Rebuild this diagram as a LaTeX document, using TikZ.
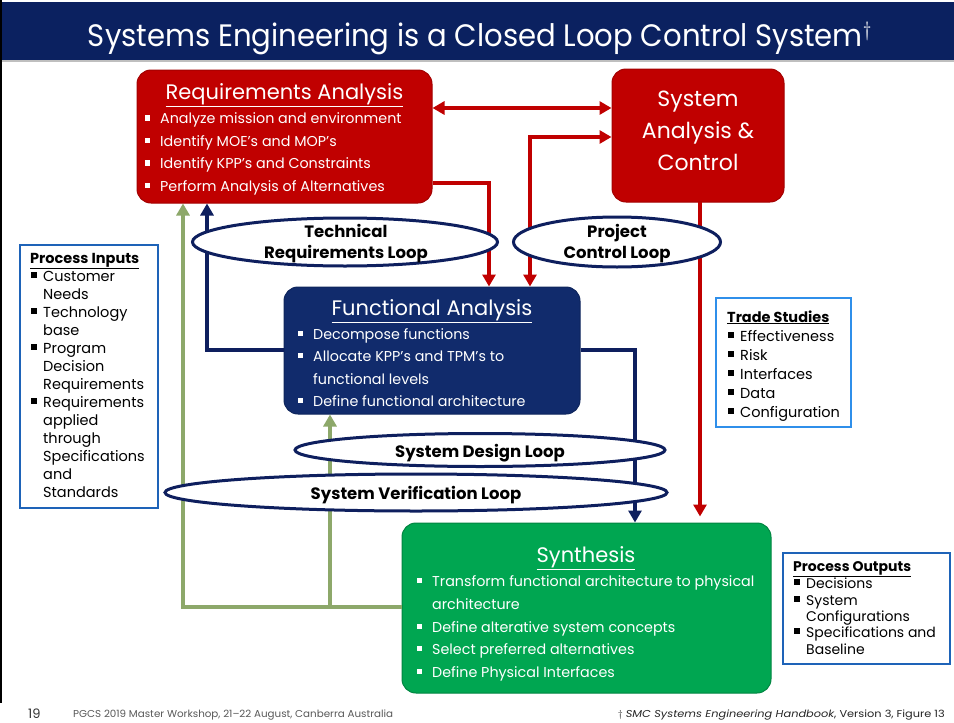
\documentclass[tikz,border=0pt]{standalone}
\usepackage{fontspec}
\setmainfont{Poppins}
\usetikzlibrary{arrows.meta,shapes.geometric}

\definecolor{titleNavy}{HTML}{0B2160}
\definecolor{raRed}{HTML}{C00000}
\definecolor{faNavy}{HTML}{112B6C}
\definecolor{synGreen}{HTML}{00A651}
\definecolor{oliveLine}{HTML}{8DA86A}
\definecolor{loopNavy}{HTML}{0E1F5E}
\definecolor{boxBlue}{HTML}{1E63B8}
\definecolor{tsBlue}{HTML}{2F8FEA}
\definecolor{footGray}{HTML}{595959}

% white square bullet inside the coloured boxes, black one in the side boxes
\newcommand{\wsq}{\llap{\rule[3pt]{5.5pt}{5.5pt}\hspace{10pt}}}
\newcommand{\ksq}{\llap{\rule[3pt]{6pt}{6pt}\hspace{6.5pt}}}

\begin{document}
\begin{tikzpicture}[x=1pt,y=-1pt,
  procbox/.style={rounded corners=14pt, inner sep=0pt, line width=1pt},
  sidebox/.style={draw=boxBlue, fill=white, line width=2.5pt, inner sep=0pt},
  loop/.style={ellipse, draw=loopNavy, fill=white, line width=3pt, inner sep=0pt},
  hd/.style={text=white, font=\fontsize{21}{24}\selectfont, inner sep=0pt},
  bt/.style={text=white, font=\fontsize{14.3}{16}\selectfont, inner sep=0pt, anchor=base west},
  st/.style={text=black, font=\fontsize{14.5}{16}\selectfont, inner sep=0pt, anchor=base west},
  lt/.style={text=black, font=\bfseries\fontsize{16.5}{20}\selectfont, inner sep=0pt, anchor=base},
  conn/.style={line width=4pt},
  tip/.style={-{Triangle[width=13pt,length=12pt]}},
  dtip/.style={{Triangle[width=13pt,length=12pt]}-{Triangle[width=13pt,length=12pt]}},
]
\useasboundingbox (0,0) rectangle (954,723);
\fill[white] (0,0) rectangle (954,723);

% title band and slide border
\fill[titleNavy] (0,2) rectangle (954,60);
\fill[black!25] (0,60) rectangle (954,61.5);
\draw[black, line width=2.5pt] (1.2,0) -- (1.2,703);
\node[text=white, inner sep=0pt, anchor=base] (title) at (480,46)
  {\resizebox{784pt}{\height}{\fontsize{31}{34}\selectfont Systems Engineering is a Closed Loop Control System$^{\dagger}$}};

% process boxes
\node[procbox, fill=raRed, draw=raRed!85!black, minimum width=295pt, minimum height=133pt] (ra) at (284.5,136.5) {};
\node[procbox, fill=raRed, draw=raRed!85!black, minimum width=172pt, minimum height=133pt] (sac) at (698,135.5) {};
\node[procbox, fill=faNavy, draw=faNavy!85!black, minimum width=296pt, minimum height=127pt] (fa) at (432,350.5) {};
\node[procbox, fill=synGreen, draw=synGreen!80!black, minimum width=369pt, minimum height=170pt] (syn) at (586.5,608) {};

% side boxes
\node[sidebox, minimum width=138pt, minimum height=263pt] (pin) at (89,376.5) {};
\node[sidebox, draw=tsBlue, minimum width=135pt, minimum height=129pt] (ts) at (783.5,362.5) {};
\node[sidebox, minimum width=167pt, minimum height=111pt] (pout) at (866.5,608.5) {};

% connectors: analysis/control loop (red)
\coordinate (r0) at (520,108);
\coordinate (r1) at (489,183);
\coordinate (r2) at (530,137);
\draw[conn, raRed, dtip] (ra.east |- r0) -- (sac.west |- r0);
\draw[conn, raRed, tip] (ra.east |- r1) -- (r1) -- (r1 |- fa.north);
\draw[conn, raRed, dtip] (sac.west |- r2) -- (r2) -- (r2 |- fa.north);
\coordinate (r3) at (700,202);
\draw[conn, raRed, tip, shorten >=6pt] (r3) -- (r3 |- syn.north);

% connectors: design loop (navy)
\coordinate (n1) at (207,350);
\coordinate (n2) at (635,350);
\draw[conn, loopNavy, tip] (fa.west |- n1) -- (n1) -- (n1 |- ra.south);
\draw[conn, loopNavy, tip] (fa.east |- n2) -- (n2) -- (n2 |- syn.north);

% connectors: verification loop (olive)
\coordinate (g1) at (183,607);
\coordinate (g2) at (330,607);
\draw[conn, oliveLine, tip] (syn.west |- g1) -- (g1) -- (g1 |- ra.south);
\draw[conn, oliveLine, tip] (g2) -- (g2 |- fa.south);

% loop ellipses
\node[loop, minimum width=305pt, minimum height=48pt] (trl) at (345,242) {};
\node[loop, minimum width=207pt, minimum height=50pt] (pcl) at (617,242) {};
\node[loop, minimum width=370pt, minimum height=33pt] (sdl) at (480,450) {};
\node[loop, minimum width=502pt, minimum height=37pt] (svl) at (416,492.5) {};
\node[lt] (trl-a) at (346,237) {Technical};
\node[lt] (trl-b) at (346,258) {Requirements Loop};
\node[lt] (pcl-a) at (617,237) {Project};
\node[lt] (pcl-b) at (617,258) {Control Loop};
\node[lt] (sdl-t) at (480,457) {System Design Loop};
\node[lt] (svl-t) at (416,499) {System Verification Loop};

% Requirements Analysis text
\node[hd, anchor=base] (ra-t) at (284.5,99) {\underline{Requirements Analysis}};
\foreach \t [count=\i] in {Analyze mission and environment, Identify MOE’s and MOP’s,
  Identify KPP’s and Constraints, Perform Analysis of Alternatives}
  \node[bt] (ra-\i) at (160,101+22.5*\i) {\wsq\t};

% System Analysis & Control text
\node[hd, anchor=base, font=\fontsize{22}{24}\selectfont] (sac-1) at (698,106) {System};
\node[hd, anchor=base, font=\fontsize{22}{24}\selectfont] (sac-2) at (698,138) {Analysis \&};
\node[hd, anchor=base, font=\fontsize{22}{24}\selectfont] (sac-3) at (698,170) {Control};

% Functional Analysis text
\node[hd, anchor=base] (fa-t) at (432,315) {\underline{Functional Analysis}};
\node[bt] (fa-1) at (313,339) {\wsq Decompose functions};
\node[bt] (fa-2) at (313,361) {\wsq Allocate KPP’s and TPM’s to};
\node[bt] (fa-3) at (313,384) {functional levels};
\node[bt] (fa-4) at (313,406) {\wsq Define functional architecture};

% Synthesis text
\node[hd, anchor=base] (syn-t) at (586,562) {\underline{Synthesis}};
\node[bt] (syn-1) at (432,586) {\wsq Transform functional architecture to physical};
\node[bt] (syn-2) at (432,609) {architecture};
\node[bt] (syn-3) at (432,632) {\wsq Define alterative system concepts};
\node[bt] (syn-4) at (432,654) {\wsq Select preferred alternatives};
\node[bt] (syn-5) at (432,677) {\wsq Define Physical Interfaces};

% Process Inputs text
\node[st, font=\bfseries\fontsize{14.5}{16}\selectfont] (pin-t) at (30,263) {\underline{Process Inputs}};
\foreach \t [count=\i] in {\ksq Customer, Needs, \ksq Technology, base, \ksq Program, Decision,
  Requirements, \ksq Requirements, applied, through, Specifications, and, Standards}
  \node[st] (pin-\i) at (43,263+18*\i) {\t};

% Trade Studies text
\node[st, font=\bfseries\fontsize{14.5}{16}\selectfont] (ts-t) at (727,322) {\underline{Trade Studies}};
\foreach \t [count=\i] in {Effectiveness, Risk, Interfaces, Data, Configuration}
  \node[st] (ts-\i) at (740,322+19*\i) {\ksq\t};

% Process Outputs text
\node[st, font=\bfseries\fontsize{14}{16}\selectfont] (pout-t) at (793,571) {\underline{Process Outputs}};
\node[st, font=\fontsize{14}{16}\selectfont] (pout-1) at (806,588) {\ksq Decisions};
\node[st, font=\fontsize{14}{16}\selectfont] (pout-2) at (806,605) {\ksq System};
\node[st, font=\fontsize{14}{16}\selectfont] (pout-3) at (806,621) {Configurations};
\node[st, font=\fontsize{14}{16}\selectfont] (pout-4) at (806,637) {\ksq Specifications and};
\node[st, font=\fontsize{14}{16}\selectfont] (pout-5) at (806,654) {Baseline};

% footer
\node[text=black!80, inner sep=0pt, anchor=base west, font=\fontsize{13}{14}\selectfont] (pg) at (28,718) {19};
\node[text=footGray, inner sep=0pt, anchor=base west] (ft-l) at (73,717)
  {\resizebox{320pt}{\height}{\fontsize{10}{12}\selectfont PGCS 2019 Master Workshop, 21–22 August, Canberra Australia}};
\node[text=black!85, inner sep=0pt, anchor=base east] (ft-r) at (945,717)
  {\resizebox{327pt}{\height}{\fontsize{10}{12}\selectfont $\dagger$ \textit{SMC Systems Engineering Handbook}, Version 3, Figure 13}};
\end{tikzpicture}
\end{document}
